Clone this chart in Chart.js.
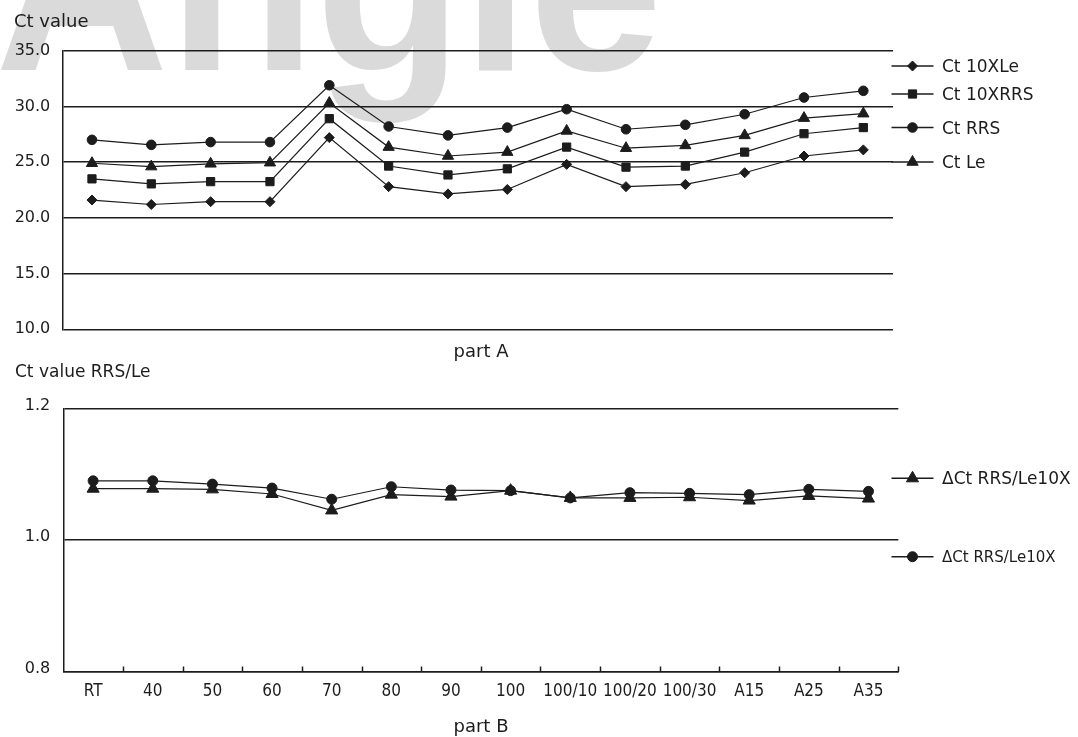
<!DOCTYPE html>
<html><head><meta charset="utf-8">
<script src="https://cdn.jsdelivr.net/npm/chart.js@4.4.1/dist/chart.umd.min.js"></script>
<style>
html,body{margin:0;padding:0;background:#fff;}
body{width:1078px;height:737px;position:relative;overflow:hidden;}
#wm{position:absolute;left:-5px;top:-140px;font:bold 230px 'Liberation Sans',Arial,sans-serif;line-height:230px;color:#dadada;transform:scale(1.045,1.08);transform-origin:0 0;white-space:nowrap;z-index:0;}
canvas{position:absolute;left:0;z-index:1;}
#ca{top:0;} #cb{top:362px;}
</style></head><body>
<div id="wm">Angie</div>
<canvas id="ca" width="1078" height="362"></canvas>
<canvas id="cb" width="1078" height="375"></canvas>
<script>
// ---- data ----
const categories = ['RT','40','50','60','70','80','90','100','100/10','100/20','100/30','A15','A25','A35'];
const seriesNamesA = ['Ct 10XLe','Ct 10XRRS','Ct RRS','Ct Le'];
const ct10XLe  = [21.6, 21.2, 21.45, 21.45, 27.2, 22.8, 22.15, 22.55, 24.8, 22.8, 23.0, 24.05, 25.55, 26.1];
const ct10XRRS = [23.5, 23.05, 23.25, 23.25, 28.9, 24.65, 23.85, 24.4, 26.35, 24.55, 24.65, 25.9, 27.55, 28.1];
const ctRRS    = [27.0, 26.55, 26.8, 26.8, 31.9, 28.2, 27.4, 28.1, 29.75, 27.95, 28.35, 29.3, 30.8, 31.4];
const ctLe     = [24.9, 24.6, 24.85, 24.95, 30.3, 26.35, 25.55, 25.9, 27.8, 26.25, 26.5, 27.4, 28.95, 29.35];
const seriesNamesB = ['\u0394Ct RRS/Le10X','\u0394Ct RRS/Le10X'];
const ratioTri  = [1.078, 1.078, 1.077, 1.070, 1.045, 1.069, 1.066, 1.075, 1.064, 1.064, 1.065, 1.060, 1.067, 1.063];
const ratioCirc = [1.090, 1.090, 1.085, 1.079, 1.062, 1.081, 1.076, 1.075, 1.064, 1.072, 1.071, 1.069, 1.077, 1.074];
const yTicksA = [10, 15, 20, 25, 30, 35];
const yTicksB = [0.8, 1.0, 1.2];

// ---- styling helpers ----
const INK = '#1c1c1c';
const SANS = "'DejaVu Sans', sans-serif";
const NARROW = "'DejaVu Sans Condensed', 'Liberation Sans Narrow', sans-serif";

function drawMarker(ctx, style, x, y, r) {
  ctx.fillStyle = INK; ctx.strokeStyle = INK; ctx.lineWidth = 1;
  if (Chart.helpers && Chart.helpers.drawPoint) {
    Chart.helpers.drawPoint(ctx, {pointStyle: style, radius: r, rotation: 0, borderWidth: 1}, x, y);
    return;
  }
  ctx.beginPath();
  if (style === 'circle') ctx.arc(x, y, r, 0, Math.PI * 2);
  else if (style === 'rect') { const s = r * Math.SQRT1_2; ctx.rect(x - s, y - s, 2 * s, 2 * s); }
  else if (style === 'rectRot') { ctx.moveTo(x, y - r); ctx.lineTo(x + r, y); ctx.lineTo(x, y + r); ctx.lineTo(x - r, y); ctx.closePath(); }
  else if (style === 'triangle') { ctx.moveTo(x, y - r); ctx.lineTo(x + r * 0.866, y + r / 2); ctx.lineTo(x - r * 0.866, y + r / 2); ctx.closePath(); }
  ctx.fill(); ctx.stroke();
}

const legendPlugin = {
  id: 'customLegend',
  afterDraw(chart, args, opts) {
    if (!opts || !opts.items) return;
    const ctx = chart.ctx;
    ctx.save();
    opts.items.forEach(it => {
      const ds = chart.data.datasets[it.ds];
      ctx.strokeStyle = INK; ctx.lineWidth = 1.5;
      ctx.beginPath(); ctx.moveTo(opts.x0, it.y); ctx.lineTo(opts.x1, it.y); ctx.stroke();
      drawMarker(ctx, ds.pointStyle, (opts.x0 + opts.x1) / 2, it.y, it.r || ds.pointRadius);
      ctx.fillStyle = INK;
      ctx.font = it.font; ctx.textBaseline = 'alphabetic'; ctx.textAlign = 'left';
      ctx.fillText(ds.label, opts.tx, it.y + it.dy);
    });
    ctx.restore();
  }
};

const textPlugin = {
  id: 'texts',
  afterDraw(chart, args, opts) {
    if (!opts || !opts.items) return;
    const ctx = chart.ctx;
    ctx.save();
    ctx.fillStyle = INK; ctx.textBaseline = 'alphabetic';
    opts.items.forEach(t => {
      ctx.font = t.font; ctx.textAlign = t.align || 'left';
      ctx.fillText(t.text, t.x, t.y);
    });
    ctx.restore();
  }
};

const innerTicksPlugin = {
  id: 'innerTicks',
  afterDraw(chart, args, opts) {
    if (!opts || !opts.enabled) return;
    const xs = chart.scales.x, ctx = chart.ctx;
    const n = chart.data.labels.length;
    const w = (xs.right - xs.left) / n;
    ctx.save();
    ctx.strokeStyle = INK; ctx.lineWidth = 1.5;
    for (let i = 0; i < n; i++) {
      const px = Math.round(xs.getPixelForValue(i) + w / 2) + 0.5;
      ctx.beginPath(); ctx.moveTo(px, xs.top - 5); ctx.lineTo(px, xs.top); ctx.stroke();
    }
    ctx.restore();
  }
};

Chart.register(legendPlugin, textPlugin, innerTicksPlugin);
Chart.defaults.font.family = SANS;
Chart.defaults.color = INK;

function lineDs(label, data, style, r) {
  return {label, data, pointStyle: style, pointRadius: r, pointHoverRadius: r,
    borderColor: INK, backgroundColor: INK, pointBackgroundColor: INK, pointBorderColor: INK,
    pointBorderWidth: 1, borderWidth: 1.2, tension: 0, fill: false};
}

// ---- Part A ----
new Chart(document.getElementById('ca'), {
  type: 'line',
  data: {
    labels: categories,
    datasets: [
      lineDs(seriesNamesA[0], ct10XLe, 'rectRot', 5),
      lineDs(seriesNamesA[1], ct10XRRS, 'rect', 5.8),
      lineDs(seriesNamesA[2], ctRRS, 'circle', 4.8),
      lineDs(seriesNamesA[3], ctLe, 'triangle', 6.5)
    ]
  },
  options: {
    responsive: false, animation: false, devicePixelRatio: 1,
    layout: {padding: {left: 0, top: 50.7, right: 185, bottom: 32.7}},
    plugins: {
      legend: {display: false}, tooltip: {enabled: false},
      customLegend: {x0: 891.5, x1: 933.5, tx: 942, items: [
        {ds: 0, y: 66, dy: 6, font: '17px ' + SANS},
        {ds: 1, y: 94, dy: 6, font: '17px ' + SANS},
        {ds: 2, y: 127.5, dy: 6, font: '17px ' + SANS},
        {ds: 3, y: 162, dy: 6, font: '17px ' + SANS}
      ]},
      texts: {items: [
        {text: 'Ct value', x: 14, y: 26.7, font: '18px ' + SANS},
        {text: 'part A', x: 481, y: 356.7, font: '18px ' + SANS, align: 'center'}
      ]}
    },
    scales: {
      x: {type: 'category', offset: true, display: false},
      y: {
        min: 10, max: 35,
        afterBuildTicks: s => { s.ticks = yTicksA.map(v => ({value: v})); },
        afterFit: s => { s.width = 62.3; },
        ticks: {padding: 12, font: {size: 16, family: SANS}, color: INK, callback: v => Number(v).toFixed(1)},
        grid: {color: INK, lineWidth: 1.5, drawTicks: false},
        border: {display: true, color: INK, width: 1.5}
      }
    }
  }
});

// ---- Part B ----
new Chart(document.getElementById('cb'), {
  type: 'line',
  data: {
    labels: categories,
    datasets: [
      lineDs(seriesNamesB[0], ratioTri, 'triangle', 7),
      lineDs(seriesNamesB[1], ratioCirc, 'circle', 5)
    ]
  },
  options: {
    responsive: false, animation: false, devicePixelRatio: 1,
    layout: {padding: {left: 0, top: 46.5, right: 179.7, bottom: 0}},
    plugins: {
      legend: {display: false}, tooltip: {enabled: false},
      innerTicks: {enabled: true},
      customLegend: {x0: 891.5, x1: 933.5, tx: 942, items: [
        {ds: 0, y: 116.3, dy: 6, font: '17px ' + SANS},
        {ds: 1, y: 194.7, dy: 5, font: '15px ' + SANS, r: 5}
      ]},
      texts: {items: [
        {text: 'Ct value RRS/Le', x: 15, y: 14.7, font: '17px ' + SANS},
        {text: 'part B', x: 481, y: 370, font: '18px ' + SANS, align: 'center'}
      ]}
    },
    scales: {
      x: {
        type: 'category', offset: true,
        afterFit: s => { s.height = 65.5; },
        grid: {display: false, drawTicks: false},
        border: {display: true, color: INK, width: 1.5},
        ticks: {padding: 10, autoSkip: false, maxRotation: 0, font: {size: 17, family: NARROW}, color: INK}
      },
      y: {
        min: 0.8, max: 1.2,
        afterBuildTicks: s => { s.ticks = yTicksB.map(v => ({value: v})); },
        afterFit: s => { s.width = 63.3; },
        ticks: {padding: 13, labelOffset: -3, font: {size: 16, family: SANS}, color: INK, callback: v => Number(v).toFixed(1)},
        grid: {color: INK, lineWidth: 1.5, drawTicks: false},
        border: {display: true, color: INK, width: 1.5}
      }
    }
  }
});
</script>
</body></html>
